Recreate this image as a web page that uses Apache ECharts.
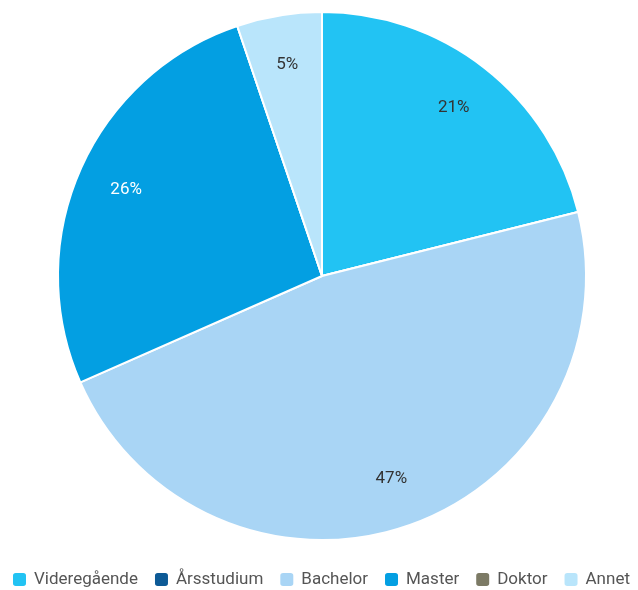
<!DOCTYPE html>
<html><head><meta charset="utf-8">
<script src="https://cdn.jsdelivr.net/npm/echarts@6/dist/echarts.min.js"></script>
<style>html,body{margin:0;padding:0;background:#fff}#c{width:638px;height:590px}</style>
</head><body><div id="c"></div>
<script>
var categories = ['Videregående', 'Årsstudium', 'Bachelor', 'Master', 'Doktor', 'Annet'];
var values = [21.1, 0, 47.3, 26.4, 0, 5.2];
var colors = ['#22c3f3', '#0d5a96', '#a9d5f5', '#039fe2', '#7c7a65', '#b9e5fb'];
var labelColors = ['#333333', '#ffffff', '#333333', '#ffffff', '#ffffff', '#333333'];

var data = categories.map(function (c, i) {
  return { name: c, value: values[i], itemStyle: { color: colors[i] } };
});
var labelData = categories.map(function (c, i) {
  return { name: c, value: values[i], label: { color: labelColors[i] } };
});
var chart = echarts.init(document.getElementById('c'), null, { renderer: 'canvas' });
chart.setOption({
  animation: false,
  legend: {
    top: 571,
    left: 11,
    width: 627,
    padding: 0,
    itemWidth: 15, itemHeight: 15, itemGap: 15,
    icon: 'roundRect',
    textStyle: { fontFamily: 'Roboto', fontSize: 17, color: '#555', padding: [0, 0, 0, 2] },
    data: categories
  },
  series: [{
    type: 'pie',
    center: [322, 276],
    radius: [0, 264],
    startAngle: 90,
    clockwise: true,
    avoidLabelOverlap: false,
    label: { show: false },
    labelLine: { show: false },
    itemStyle: { borderColor: '#fff', borderWidth: 2 },
    emphasis: { disabled: true },
    data: data
  }, {
    type: 'pie',
    center: [322, 276],
    radius: [158, 264],
    startAngle: 90,
    silent: true,
    legendHoverLink: false,
    avoidLabelOverlap: false,
    itemStyle: { color: 'rgba(0,0,0,0)' },
    label: {
      show: true, position: 'inside',
      fontFamily: 'Roboto', fontSize: 17,
      formatter: function (p) { return p.value > 0 ? Math.round(p.percent) + '%' : ''; }
    },
    labelLine: { show: false },
    emphasis: { disabled: true },
    data: labelData
  }]
});
</script></body></html>
